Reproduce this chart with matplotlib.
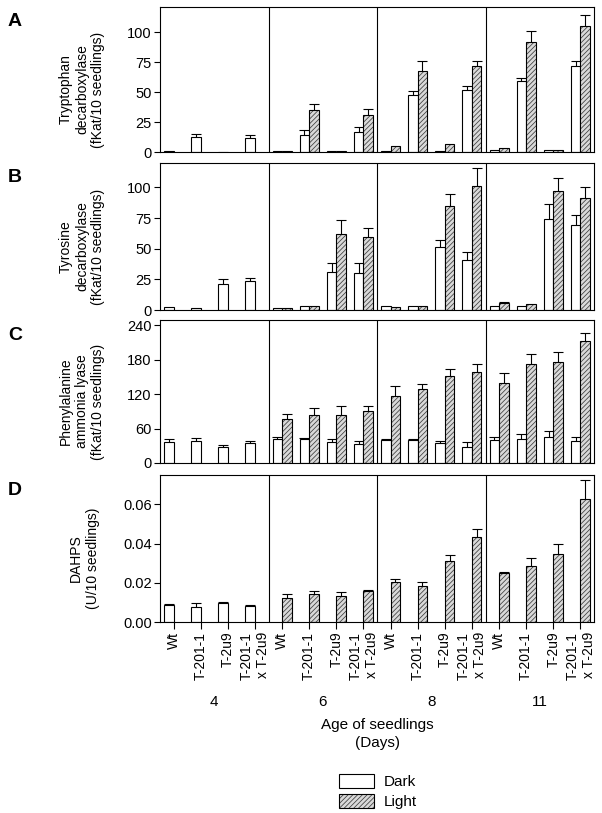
import numpy as np
import matplotlib

matplotlib.use("Agg")

import matplotlib.pyplot as plt
import matplotlib.patches as mpatches
from matplotlib.legend_handler import HandlerTuple
from matplotlib.ticker import FormatStrFormatter
from matplotlib.transforms import blended_transform_factory

plt.rcParams["font.family"] = ["Liberation Sans", "DejaVu Sans"]
plt.rcParams["hatch.linewidth"] = 0.55

nan = np.nan

GENOTYPES = ["Wt", "T-201-1", "T-2u9", "T-201-1\nx T-2u9"]
DAYS = ["4", "6", "8", "11"]

# order: day 4 (Wt, T-201-1, T-2u9, cross), day 6, day 8, day 11
TDC_DARK = [0.5, 12.4, 0.3, 11.6, 1.2, 14.6, 1.0, 16.3, 1.2, 47.7, 1.0, 51.8, 1.4, 59.2, 2.0, 71.9]
TDC_DARK_ERR = [nan, 3.0, nan, 3.0, nan, 4.1, nan, 4.4, nan, 3.3, nan, 3.2, nan, 2.2, nan, 3.9]
TDC_LIGHT = [nan, nan, nan, nan, 1.2, 35.3, 1.0, 30.9, 5.2, 67.5, 6.9, 71.6, 3.3, 91.7, 2.0, 105.0]
TDC_LIGHT_ERR = [nan, nan, nan, nan, nan, 4.7, nan, 4.6, nan, 8.3, nan, 4.4, nan, 9.3, nan, 9.6]

TYDC_DARK = [2.2, 1.6, 21.3, 23.5, 2.0, 3.0, 31.4, 30.3, 3.6, 3.3, 51.4, 41.0, 3.6, 3.6, 74.3, 69.7]
TYDC_DARK_ERR = [nan, nan, 4.1, 2.7, nan, nan, 7.1, 8.2, nan, nan, 5.4, 6.3, nan, nan, 12.3, 7.9]
TYDC_LIGHT = [nan, nan, nan, nan, 2.0, 3.0, 62.3, 59.3, 2.2, 3.3, 85.0, 101.0, 5.5, 4.6, 97.3, 91.3]
TYDC_LIGHT_ERR = [nan, nan, nan, nan, nan, nan, 11.2, 7.9, nan, nan, 9.3, 15.0, 0.8, nan, 10.7, 9.2]

PAL_DARK = [37, 39, 28, 35, 41, 41, 37, 33, 40, 40, 34, 28, 40, 42, 46, 39]
PAL_DARK_ERR = [4, 4.5, 3.5, 3, 5, 3, 4, 6, 2, 2, 3.5, 9, 4.5, 8, 9, 6]
PAL_LIGHT = [nan, nan, nan, nan, 76, 83, 83, 90, 116.5, 129, 151, 159, 140, 172, 176, 213]
PAL_LIGHT_ERR = [nan, nan, nan, nan, 9, 13, 17, 9, 17, 8, 12, 14, 16, 18, 18, 14]

DAHPS_DARK = [0.0087, 0.0079, 0.0099, 0.0084] + [nan] * 12
DAHPS_DARK_ERR = [0.0003, 0.0018, 0.0004, 0.0003] + [nan] * 12
DAHPS_LIGHT = [nan] * 4 + [0.0125, 0.0144, 0.0135, 0.0160, 0.0203, 0.0186, 0.0313, 0.0432,
                           0.0251, 0.0286, 0.0346, 0.0629]
DAHPS_LIGHT_ERR = [nan] * 4 + [0.0019, 0.0015, 0.0017, 0.0004, 0.0017, 0.0017, 0.0028, 0.0042,
                               0.0004, 0.0041, 0.0050, 0.0098]

BAR_W = 0.35
HATCH_FACE = "#d9d9d9"
HATCH_LINE = "#3c3c3c"
W_PX, H_PX = 602, 813


def _rect(a_top, a_bottom):
    """Axes rect in figure fractions from pixel rows."""
    return [160 / W_PX, 1 - a_bottom / H_PX, 434 / W_PX, (a_bottom - a_top) / H_PX]


def _errbars(a_axis, a_x, a_vals, a_errs):
    vals = np.asarray(a_vals, dtype=float)
    errs = np.asarray(a_errs, dtype=float)
    container = a_axis.errorbar(
        a_x, vals, yerr=[np.zeros_like(errs), errs], fmt="none",
        ecolor="black", elinewidth=0.8, capsize=3.5, capthick=0.8, zorder=1,
    )
    # keep only the upper cap
    container[1][0].remove()


def draw_panel(a_axis, a_dark, a_dark_err, a_light, a_light_err, a_ylim, a_ticks):
    x = np.arange(len(a_dark))
    a_axis.bar(x - BAR_W / 2, a_dark, BAR_W, facecolor="white", edgecolor="black",
               linewidth=0.8, zorder=2)
    a_axis.bar(x + BAR_W / 2, a_light, BAR_W, facecolor=HATCH_FACE, edgecolor=HATCH_LINE,
               hatch="///////", linewidth=0, zorder=2)
    a_axis.bar(x + BAR_W / 2, a_light, BAR_W, fill=False, edgecolor="black",
               linewidth=0.8, zorder=3)
    _errbars(a_axis, x - BAR_W / 2, a_dark, a_dark_err)
    _errbars(a_axis, x + BAR_W / 2, a_light, a_light_err)
    for boundary in (3.5, 7.5, 11.5):
        a_axis.axvline(boundary, color="black", linewidth=0.8, zorder=4)
    a_axis.set_xlim(-0.5, len(a_dark) - 0.5)
    a_axis.set_ylim(*a_ylim)
    a_axis.set_yticks(a_ticks)
    a_axis.tick_params(axis="y", direction="out", length=4, width=0.8, labelsize=10.5, pad=2)
    for spine in a_axis.spines.values():
        spine.set_linewidth(0.8)


fig = plt.figure(figsize=(W_PX / 100, H_PX / 100), dpi=100)

panels = [
    ("A", (7, 152), TDC_DARK, TDC_DARK_ERR, TDC_LIGHT, TDC_LIGHT_ERR, (0, 121),
     [0, 25, 50, 75, 100], ["Tryptophan", "decarboxylase", "(fKat/10 seedlings)"]),
    ("B", (163, 310), TYDC_DARK, TYDC_DARK_ERR, TYDC_LIGHT, TYDC_LIGHT_ERR, (0, 120),
     [0, 25, 50, 75, 100], ["Tyrosine", "decarboxylase", "(fKat/10 seedlings)"]),
    ("C", (320, 463), PAL_DARK, PAL_DARK_ERR, PAL_LIGHT, PAL_LIGHT_ERR, (0, 249),
     [0, 60, 120, 180, 240], ["Phenylalanine", "ammonia lyase", "(fKat/10 seedlings)"]),
    ("D", (475, 622), DAHPS_DARK, DAHPS_DARK_ERR, DAHPS_LIGHT, DAHPS_LIGHT_ERR, (0, 0.075),
     [0.0, 0.02, 0.04, 0.06], ["DAHPS", "(U/10 seedlings)"]),
]

axes = []
for letter, (top, bottom), dark, dark_err, light, light_err, ylim, ticks, ylabel in panels:
    axis = fig.add_axes(_rect(top, bottom))
    draw_panel(axis, dark, dark_err, light, light_err, ylim, ticks)
    axes.append(axis)
    fig.text(15 / W_PX, 1 - (top + 15) / H_PX, letter, fontsize=14, fontweight="bold",
             ha="center", va="center")
    mid_y = 1 - ((top + bottom) / 2 + 10) / H_PX
    line_x = [66, 82, 98] if len(ylabel) == 3 else [76, 93]
    for line, px in zip(ylabel, line_x):
        fig.text(px / W_PX, mid_y, line, rotation=90, fontsize=10, ha="center", va="center")

for axis in axes[:3]:
    axis.tick_params(axis="x", bottom=False, labelbottom=False)

ax_d = axes[3]
ax_d.yaxis.set_major_formatter(FormatStrFormatter("%.2f"))
ax_d.set_xticks(np.arange(16))
ax_d.set_xticklabels(GENOTYPES * len(DAYS), rotation=90, ha="center", va="top",
                     multialignment="right", fontsize=10)
ax_d.tick_params(axis="x", direction="out", length=5, width=0.8, pad=2)

blend = blended_transform_factory(ax_d.transData, fig.transFigure)
for index, day in enumerate(DAYS):
    ax_d.text(index * 4 + 1.5, 1 - 702 / H_PX, day, transform=blend, fontsize=11,
              ha="center", va="center")
fig.text(377 / W_PX, 1 - 725 / H_PX, "Age of seedlings", fontsize=11, ha="center", va="center")
fig.text(377 / W_PX, 1 - 743 / H_PX, "(Days)", fontsize=11, ha="center", va="center")

dark_handle = mpatches.Patch(facecolor="white", edgecolor="black", linewidth=0.8)
light_fill = mpatches.Patch(facecolor=HATCH_FACE, edgecolor=HATCH_LINE, hatch="///////", linewidth=0)
light_edge = mpatches.Patch(fill=False, edgecolor="black", linewidth=0.8)
fig.legend(
    [dark_handle, (light_fill, light_edge)], ["Dark", "Light"],
    handler_map={tuple: HandlerTuple(ndivide=1)},
    loc="upper left", bbox_to_anchor=(339 / W_PX, 1 - 774 / H_PX),
    frameon=False, fontsize=11, borderpad=0, borderaxespad=0,
    handlelength=2.3, handleheight=1.05, handletextpad=0.6, labelspacing=0.3,
)

fig.savefig("out.png", dpi=100)
plt.close(fig)
